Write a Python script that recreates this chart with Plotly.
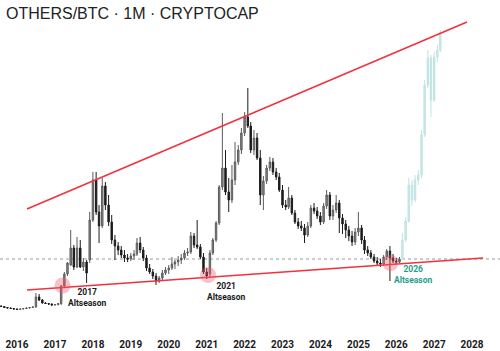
import pandas as pd
import plotly.graph_objects as go

# ---- data (monthly candles, arbitrary price index) ----
start_month = "2015-07-01"
open_ = [24.5,24,23.5,22.5,22,21.5,21,20.5,21,21.5,22,22.5,23,33,30,27,26.5,26,25,25.5,26.5,44,56,65,82,63,82,63,68,70,
         110,150,118,104,144,125,108,90,84,80,75,72,71,74,76,87,80,72,62,58,54,49,52,57,60,62,66,68,70,72,
         77,78,94,85,83,73,58,56,77,90,107,143,162,138,130,150,168,180,197,213,204,180,192,172,135,149,162,168,158,153,
         140,125,123,132,117,108,104,102,95,104,122,119,114,108,124,135,114,120,127,112,106,100,94,88,98,102,90,80,77,73,
         69,67,66,73,79,72,69,68]
high = [25,24.5,24,23,22.5,22,21.5,21.5,22,22.5,23,23.5,37,36,31,28,27,26.5,26,26.5,45,58,68,100,85,93,90,72,70,118,
        158,158,125,152,148,135,115,95,88,84,80,76,77,80,92,93,83,75,66,61,57,54,60,63,65,73,70,74,76,80,
        82,98,97,110,86,77,62,80,92,109,145,217,180,152,165,188,185,202,218,242,208,200,197,180,154,165,173,172,162,157,
        145,130,143,135,120,112,109,106,108,125,127,123,118,127,140,138,125,135,130,116,110,104,99,102,118,105,94,84,80,76,
        73,71,75,81,84,76,72,73]
low = [23.5,23,22,21.5,21,20.5,20,20,20.5,21,21.5,22,22.5,29,26.5,26,25,24.5,24.5,24.5,25,42,54,64,60,62,62,59,47,67,
       108,115,87,102,120,104,86,70,75,72,68,68,69,70,74,77,69,59,56,51,45,47,50,55,56,60,61,64,66,70,
       74,76,82,81,71,56,51,52,75,88,105,140,135,118,127,145,165,176,194,202,177,175,170,125,120,146,159,155,150,138,
       122,120,121,115,106,101,99,87,93,102,116,111,105,106,121,110,110,117,97,96,92,89,84,85,94,86,76,74,71,67,
       65,63,64,70,49,67,66,67]
close = [24,23.5,22.5,22,21.5,21,20.5,21,21.5,22,22.5,23,33,30,27,26.5,26,25,25.5,26.5,44,56,67,82,63,82,63,68,57,110,
         150,118,104,144,125,108,90,84,80,75,72,71,74,76,87,80,72,62,58,54,49,52,57,60,62,66,68,70,72,77,
         78,94,85,83,73,58,54,77,90,107,143,162,138,130,150,168,180,197,213,204,180,192,172,135,149,162,168,158,153,140,
         125,123,132,117,108,104,102,95,104,122,119,114,108,124,135,114,120,127,112,106,100,94,88,98,102,90,80,77,73,69,
         67,66,73,79,72,69,68,71]

proj_start = "2026-03-01"
proj_open = [71,90,109,145,130,150,155,195,245,272,230,273,280]
proj_high = [97,113,152,150,155,160,200,250,280,275,278,285,300]
proj_low = [70,88,107,124,128,145,152,193,242,213,228,268,278]
proj_close = [90,109,145,130,150,155,195,245,272,230,273,280,297]

upper_trend_x = ["2016-04-06", "2027-11-13"]
upper_trend_y = [121, 308]
lower_trend_x = ["2016-04-06", "2028-04-16"]
lower_trend_y = [40, 72]
last_price = 71

circles = [("2017-03-15", 44.5), ("2021-01-14", 55), ("2025-11-06", 67)]
labels = [
    ("2017-11-14", 33, "2017", "#1a1a1a"),
    ("2021-07-06", 39, "2021", "#1a1a1a"),
    ("2026-06-20", 56, "2026", "#1f9e8b"),
]
years = list(range(2016, 2029))

# ---- figure ----
dates = pd.date_range(start_month, periods=len(close), freq="MS")
pdates = pd.date_range(proj_start, periods=len(proj_close), freq="MS")

fig = go.Figure()
fig.add_trace(go.Candlestick(
    x=dates, open=open_, high=high, low=low, close=close,
    increasing=dict(line=dict(color="#5c5c5c", width=1), fillcolor="#8c8c8c"),
    decreasing=dict(line=dict(color="#1c1c1c", width=1), fillcolor="#1c1c1c"),
    hoverinfo="skip", showlegend=False))
fig.add_trace(go.Candlestick(
    x=pdates, open=proj_open, high=proj_high, low=proj_low, close=proj_close,
    increasing=dict(line=dict(color="#bfe3e0", width=1), fillcolor="#cdeae7"),
    decreasing=dict(line=dict(color="#bfe3e0", width=1), fillcolor="#cdeae7"),
    hoverinfo="skip", showlegend=False))
fig.add_trace(go.Scatter(x=upper_trend_x, y=upper_trend_y, mode="lines",
                         line=dict(color="#f2313f", width=1.6), hoverinfo="skip", showlegend=False))
fig.add_trace(go.Scatter(x=lower_trend_x, y=lower_trend_y, mode="lines",
                         line=dict(color="#f2313f", width=1.6), hoverinfo="skip", showlegend=False))

fig.add_shape(type="line", xref="paper", x0=0, x1=1, yref="y", y0=last_price, y1=last_price,
              line=dict(color="#9a9a9a", width=1, dash="dot"), layer="below")

for cx, cy in circles:
    fig.add_shape(type="circle", xref="x", yref="y", xsizemode="pixel", ysizemode="pixel",
                  xanchor=cx, yanchor=cy, x0=-8, x1=8, y0=-8, y1=8,
                  fillcolor="rgba(240,90,110,0.38)", line=dict(width=0), layer="above")

for lx, ly, yr, col in labels:
    fig.add_annotation(x=lx, y=ly, xref="x", yref="y", text=f"<b>{yr}</b><br><b>Altseason</b>",
                       showarrow=False, align="center",
                       font=dict(family="Roboto, Arial", size=8.5, color=col),
                       xanchor="center", yanchor="middle")

fig.add_annotation(x=0.008, y=0.958, xref="paper", yref="paper",
                   text="OTHERS/BTC · 1M · CRYPTOCAP", showarrow=False,
                   font=dict(family="Liberation Sans, Arial", size=16, color="#222222"),
                   xanchor="left", yanchor="middle")

fig.update_layout(
    width=500, height=351,
    margin=dict(l=0, r=0, t=0, b=21),
    paper_bgcolor="white", plot_bgcolor="white",
    xaxis=dict(type="date", range=["2015-07-21", "2028-09-26"],
               tickvals=[f"{y}-01-01" for y in years], ticktext=[str(y) for y in years],
               showgrid=False, zeroline=False, showline=False, ticks="",
               tickfont=dict(family="Roboto, Arial", size=10, color="#1a1a1a", weight="bold"),
               rangeslider=dict(visible=False), fixedrange=True, ticklabelstandoff=7),
    yaxis=dict(range=[0, 330], visible=False, fixedrange=True),
    hovermode=False,
)

fig.write_html("out.html")
